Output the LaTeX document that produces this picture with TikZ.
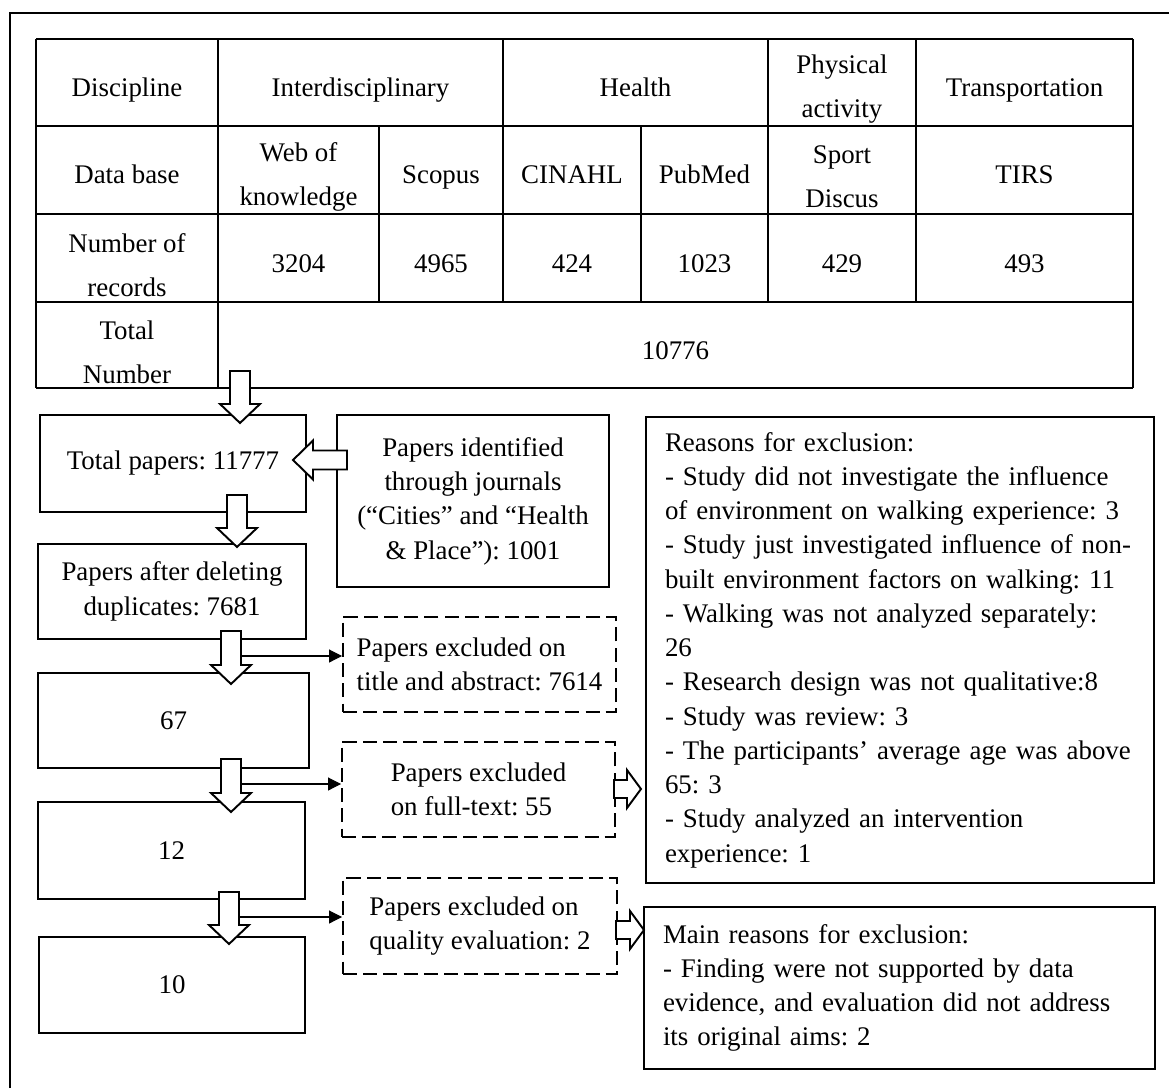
\documentclass[tikz,border=0pt]{standalone}
\usepackage{fontspec}
\setmainfont{Liberation Serif}
\usetikzlibrary{arrows.meta}

\newcommand{\boxfont}{\fontsize{15.3}{19.5}\selectfont\frenchspacing}
\newcommand{\cellfont}{\fontsize{15.3}{25}\selectfont\frenchspacing}
\tikzset{
    box/.style = {draw, line width = 1.1pt, align = center, inner sep = 0pt, font = \boxfont},
    dashbox/.style = {box, align = left, dash pattern = on 8pt off 3.5pt},
    notebox/.style = {draw, line width = 0.8pt, align = left, inner sep = 0pt, font = \boxfont},
    cell/.style = {align = center, inner sep = 0pt, font = \cellfont},
    onecell/.style = {cell, text height = 10pt, text depth = 4pt},
    grid/.style = {line width = 0.6pt},
    blockarrow/.style = {draw, line width = 1.1pt, fill = white, line join = miter},
    thinarrow/.style = {line width = 0.6pt, -{Triangle[length = 2.6mm, width = 2.6mm]}},
}
\newcommand{\arrowdown}[3]{\draw[blockarrow] ({#1 - 10}, #2) -- ({#1 + 10}, #2) -- ({#1 + 10}, {#3 - 19}) -- ({#1 + 20}, {#3 - 19}) -- (#1, #3) -- ({#1 - 20}, {#3 - 19}) -- ({#1 - 10}, {#3 - 19}) -- cycle;}
\newcommand{\arrowright}[3]{\draw[blockarrow] (#1, {#2 - 9}) -- ({#3 - 14}, {#2 - 9}) -- ({#3 - 14}, {#2 - 19}) -- (#3, #2) -- ({#3 - 14}, {#2 + 19}) -- ({#3 - 14}, {#2 + 9}) -- (#1, {#2 + 9}) -- cycle;}

\begin{document}
\begin{tikzpicture}[x = 0.2mm, y = -0.2mm]
        \useasboundingbox (0, 0) rectangle (1169, 1088);
        % outer frame
        \draw[line width = 1.1pt] (10, 1088) -- (10, 13) -- (1169, 13);
        % table
        \foreach \r in {39, 126, 214, 302, 388}
            \draw[grid] (36, \r) -- (1133, \r);
        \foreach \c in {36, 218, 1133}
            \draw[grid] (\c, 39) -- (\c, 388);
        \foreach \c in {503, 768, 916}
            \draw[grid] (\c, 39) -- (\c, 302);
        \foreach \c in {379, 641}
            \draw[grid] (\c, 126) -- (\c, 302);
        \node[onecell] (disc) at (127, 91) {Discipline};
        \node[onecell] (inter) at (360.5, 91) {Interdisciplinary};
        \node[onecell] (health) at (635.5, 91) {Health};
        \node[cell] (phys) at (842, 89) {Physical\\activity};
        \node[onecell] (trans) at (1024.5, 91) {Transportation};
        \node[onecell] (dbase) at (127, 178.5) {Data base};
        \node[cell] (wok) at (298.5, 176.5) {Web of\\knowledge};
        \node[onecell] (scopus) at (441, 178.5) {Scopus};
        \node[onecell] (cinahl) at (572, 178.5) {CINAHL};
        \node[onecell] (pubmed) at (704.5, 178.5) {PubMed};
        \node[cell] (sport) at (842, 176.5) {Sport\\Discus};
        \node[onecell] (tirs) at (1024.5, 178.5) {TIRS};
        \node[cell] (nrec) at (127, 265) {Number of\\records};
        \foreach \x/\v in {298.5/3204, 441/4965, 572/424, 704.5/1023, 842/429, 1024.5/493}
            \node[onecell] (n\v) at (\x, 267) {\v};
        \node[cell] (total) at (127, 352) {Total\\Number};
        \node[onecell] (ntotal) at (675.5, 354) {10776};
        % flow boxes
        \node[box, minimum width = 53.2mm, minimum height = 19.4mm] (tot) at (173, 463.5) {Total papers: 11777};
        \node[box, minimum width = 54.4mm, minimum height = 34.4mm] (jour) at (473, 501) {Papers identified\\through journals\\(“Cities” and “Health\\\& Place”): 1001};
        \node[box, minimum width = 53.6mm, minimum height = 19mm] (dup) at (172, 591.5) {Papers after deleting\\duplicates: 7681};
        \node[dashbox, minimum width = 54.6mm, minimum height = 19mm] (ex1) at (479.5, 664.5) {Papers excluded on\\title and abstract: 7614};
        \node[box, minimum width = 54.2mm, minimum height = 19mm] (n67) at (173.5, 720.5) {67};
        \node[dashbox, minimum width = 54.6mm, minimum height = 19mm] (ex2) at (478.5, 789.5) {Papers excluded\\on full-text: 55};
        \node[box, minimum width = 53.4mm, minimum height = 19.4mm] (n12) at (171.5, 850.5) {12};
        \node[dashbox, minimum width = 54.8mm, minimum height = 19.2mm] (ex3) at (480, 926) {Papers excluded on\\quality evaluation: 2};
        \node[box, minimum width = 53.2mm, minimum height = 19.2mm] (n10) at (172, 985) {10};
        \node[notebox, minimum width = 101.6mm, minimum height = 93.2mm, text width = 94mm] (rs1) at (900, 650) {Reasons for exclusion:\\- Study did not investigate the influence\\of environment on walking experience: 3\\- Study just investigated influence of non-\\built environment factors on walking: 11\\- Walking was not analyzed separately:\\26\\- Research design was not qualitative:8\\- Study was review: 3\\- The participants' average age was above\\65: 3\\- Study analyzed an intervention\\experience: 1};
        \node[notebox, minimum width = 102.2mm, minimum height = 32.4mm, text width = 94.6mm] (rs2) at (899.5, 988) {Main reasons for exclusion:\\- Finding were not supported by data\\evidence, and evaluation did not address\\its original aims: 2};
        % thin arrows to the excluded boxes
        \coordinate (s67) at (241, 656);
        \coordinate (s12) at (241, 784);
        \coordinate (s10) at (239, 917);
        \draw[thinarrow] (s67) -- (s67 -| ex1.west);
        \draw[thinarrow] (s12) -- (s12 -| ex2.west);
        \draw[thinarrow] (s10) -- (s10 -| ex3.west);
        % block arrows
        \arrowdown{240}{371}{423}
        \arrowdown{237}{495}{547}
        \arrowdown{231}{631}{684}
        \arrowdown{231}{759}{812}
        \arrowdown{229}{892}{944}
        \draw[blockarrow] (347, 450.5) -- (313, 450.5) -- (313, 440.5) -- (293, 460) -- (313, 479.5) -- (313, 469.5) -- (347, 469.5) -- cycle;
        \arrowright{614}{789}{641}
        \arrowright{616}{930}{644}
    \end{tikzpicture}
\end{document}
